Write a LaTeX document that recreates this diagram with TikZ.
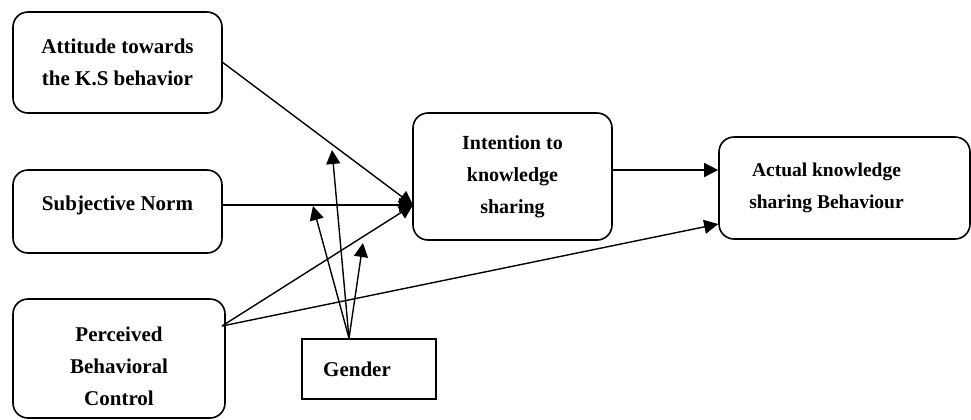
\documentclass[tikz,border=0pt]{standalone}
\usepackage{fontspec}
\setmainfont{Liberation Serif}
\usetikzlibrary{arrows.meta}

\begin{document}
\begin{tikzpicture}[->,>={Triangle[length=7pt,width=7pt]},x=0.5pt,y=-0.5pt,line width=0.7pt,
    var node/.style={draw,rounded corners=7.5pt,line width=0.8pt,align=center,inner sep=0pt,font=\fontsize{10.5}{16}\selectfont\bfseries},
    mod node/.style={draw,line width=0.8pt,inner sep=0pt},
    var text/.style={align=center,font=\fontsize{10.5}{16}\selectfont\bfseries}]

            \useasboundingbox (0,0) rectangle (971,419);

            \node[var node,minimum width=104.5pt,minimum height=50.5pt] (att) at (117.5,62.5) {Attitude towards\\the K.S behavior};
            \node[var node,minimum width=104.5pt,minimum height=41.5pt,
                label={[yshift=3pt,var text]center:Subjective Norm}] (subj) at (117.5,211.5) {};
            \node[var node,minimum width=106pt,minimum height=59.5pt,
                label={[yshift=-4pt,var text]center:Perceived\\Behavioral\\Control}] (pbc) at (119,358.5) {};
            \node[var node,minimum width=99.5pt,minimum height=63.5pt,font=\fontsize{10}{16}\selectfont\bfseries] (int) at (512.5,176.5) {Intention to\\knowledge\\sharing};
            \node[var node,minimum width=125.5pt,minimum height=51pt,
                label={[xshift=-9pt,var text,font=\fontsize{9.75}{16}\selectfont\bfseries]center:Actual knowledge\\sharing Behaviour}] (act) at (844.5,188) {};
            \node[mod node,minimum width=67pt,minimum height=30pt,
                label={[xshift=-6pt,var text]center:Gender}] (gen) at (369,369) {};

            \coordinate (jn) at (413,205);
            \coordinate (pout) at (222,326);
            \coordinate (m1) at (332,150);
            \coordinate (m2) at (313,206);
            \coordinate (m3) at (363,243);

            \path
                (att.east) edge (jn)
                (subj.east |- jn) edge (jn)
                (pout) edge (jn)
                (pout) edge (act.west |- 0,224)
                (int.east |- 0,170) edge (act.west |- 0,170)
                ([xshift=-10pt]gen.north) edge (m1) edge (m2) edge (m3)
            ;
        \end{tikzpicture}
\end{document}
